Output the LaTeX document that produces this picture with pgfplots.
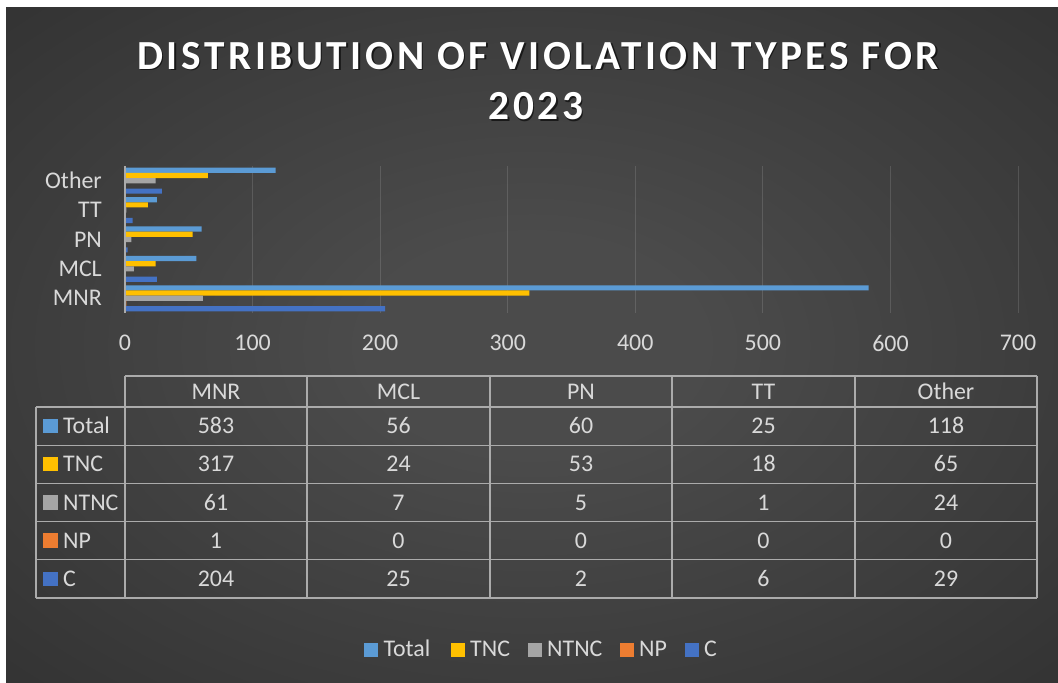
\documentclass[border=0pt]{standalone}
\usepackage{pgfplots}
\usepackage{pgfplotstable}
\pgfplotsset{compat=1.18}
\usepackage{fontspec}
\setmainfont{Carlito}
\newfontfamily\titlefont[LetterSpace=8.6]{Carlito}
\definecolor{cTotal}{HTML}{5B9BD5}
\definecolor{cTNC}{HTML}{FFC000}
\definecolor{cNTNC}{HTML}{A5A5A5}
\definecolor{cNP}{HTML}{ED7D31}
\definecolor{cC}{HTML}{4472C4}
\definecolor{txt}{HTML}{D9D9D9}
\definecolor{tline}{HTML}{ABABAB}
\definecolor{bgin}{HTML}{4B4B4B}
\definecolor{bgout}{HTML}{252525}
\pgfdeclareradialshading{bgshade}{\pgfpoint{0bp}{0bp}}{color(0bp)=(bgin); color(8bp)=(bgin); color(52bp)=(bgout); color(100bp)=(bgout)}

\pgfplotstableread{
cat idx Total TNC NTNC NP C
MNR 0 583 317 61 1 204
MCL 1 56 24 7 0 25
PN 2 60 53 5 0 2
TT 3 25 18 1 0 6
Other 4 118 65 24 0 29
}\datatable

\newcommand{\tfont}{\fontsize{24}{28}\selectfont}

\begin{document}
\begin{tikzpicture}
\useasboundingbox (0,0) rectangle (1058bp,683bp);
\fill[white] (0,0) rectangle (1058bp,683bp);
\shade[shading=bgshade] (6bp,0) rectangle (1058bp,675bp);

% title
\foreach \dx/\dy/\col/\op in {1.5/-1.5/black/0.6, 0/0/white/1} {
  \node[anchor=base, inner sep=0pt, text=\col, text opacity=\op] at (538bp+\dx bp,613.7bp+\dy bp)
    {\titlefont\bfseries\fontsize{41.5}{48}\selectfont DISTRIBUTION OF VIOLATION TYPES FOR};
  \node[anchor=base, inner sep=0pt, text=\col, text opacity=\op] at (536bp+\dx bp,563bp+\dy bp)
    {\titlefont\bfseries\fontsize{41.5}{48}\selectfont 2023};
}

\begin{axis}[
  at={(125bp,370bp)}, anchor=south west, scale only axis,
  width=893bp, height=147bp,
  xmin=0, xmax=700, ymin=-0.5, ymax=4.5,
  xbar, bar width=5.2bp,
  xtick={0,100,...,700},
  ytick={0,1,2,3,4}, yticklabels={MNR,MCL,PN,TT,Other},
  major tick length=0pt,
  axis line style={draw=none},
  xmajorgrids, grid style={draw=white, draw opacity=0.13, line width=1bp},
  /pgf/number format/assume math mode=true,
  xticklabel style={font=\tfont, text=txt, inner sep=0pt, anchor=north, yshift=-22bp},
  yticklabel style={font=\tfont, text=txt, inner sep=0pt, anchor=east, xshift=-23bp},
  clip=false,
]
\addplot[fill=cTotal, draw=none, bar shift=10.4bp] table[x=Total, y=idx]{\datatable};
\addplot[fill=cTNC, draw=none, bar shift=5.2bp] table[x=TNC, y=idx]{\datatable};
\addplot[fill=cNTNC, draw=none, bar shift=0bp] table[x=NTNC, y=idx]{\datatable};
\addplot[fill=cNP, draw=none, bar shift=-5.2bp] table[x=NP, y=idx]{\datatable};
\addplot[fill=cC, draw=none, bar shift=-10.4bp] table[x=C, y=idx]{\datatable};
\draw[tline, line width=1.5bp] (axis cs:0,-0.5) -- (axis cs:0,4.5);
\end{axis}

% data table
\begin{scope}[tline, line width=1.2bp]
\draw (125bp,307bp) -- (1037bp,307bp);
\foreach \yy in {276,237.8,199.6,161.4,123.2,85} \draw (36bp,\yy bp) -- (1037bp,\yy bp);
\draw (36bp,276bp) -- (36bp,85bp);
\foreach \xx in {125,307,490,672,855,1037} \draw (\xx bp,307bp) -- (\xx bp,85bp);
\end{scope}
\foreach \c/\xc in {0/216,1/398.5,2/581,3/763.5,4/946} {
  \pgfplotstablegetelem{\c}{cat}\of\datatable
  \node[anchor=base, inner sep=0pt, text=txt, font=\tfont] at (\xc bp, 283.8bp) {\pgfplotsretval};
}
\foreach \s/\col [count=\k from 0] in {Total/cTotal,TNC/cTNC,NTNC/cNTNC,NP/cNP,C/cC} {
  \pgfmathsetmacro{\yc}{256.9-38.2*\k}
  \fill[\col] (43.3bp,\yc bp-7.2bp) rectangle (57.7bp,\yc bp+7.2bp);
  \node[anchor=base west, inner sep=0pt, text=txt, font=\tfont] at (63bp,\yc bp-7.7bp) {\s};
  \foreach \c/\xc in {0/216,1/398.5,2/581,3/763.5,4/946} {
    \pgfplotstablegetelem{\c}{\s}\of\datatable
    \node[anchor=base, inner sep=0pt, text=txt, font=\tfont] at (\xc bp, \yc bp-7.7bp) {\pgfplotsretval};
  }
}

% legend
\foreach \s/\col/\xs/\xt in {Total/cTotal/364/383.3,TNC/cTNC/451/470,NTNC/cNTNC/528.3/547,NP/cNP/620/639,C/cC/685/704} {
  \fill[\col] (\xs bp,26.3bp) rectangle (\xs bp+14bp,40.3bp);
  \node[anchor=base west, inner sep=0pt, text=txt, font=\tfont] at (\xt bp,27bp) {\s};
}
\end{tikzpicture}
\end{document}
